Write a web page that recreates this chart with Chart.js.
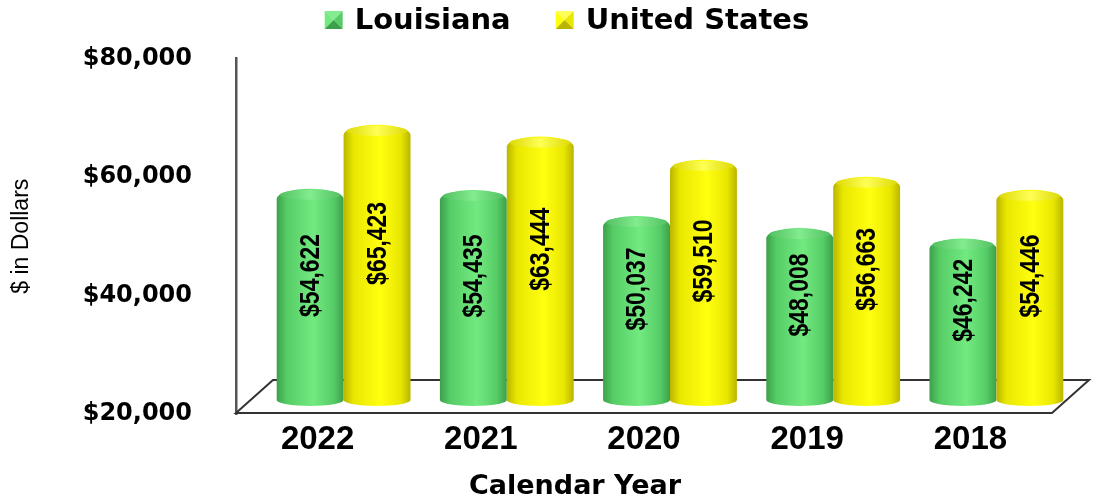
<!DOCTYPE html>
<html>
<head>
<meta charset="utf-8">
<script src="https://cdn.jsdelivr.net/npm/chart.js@4.4.1/dist/chart.umd.min.js"></script>
<style>
  html, body { margin: 0; padding: 0; background: #fff; }
  #wrap { width: 1099px; height: 498px; }
</style>
</head>
<body>
<div id="wrap"><canvas id="incomeChart"></canvas></div>
<script>
const years = ["2022", "2021", "2020", "2019", "2018"];
const louisiana = [54622, 54435, 50037, 48008, 46242];
const unitedStates = [65423, 63444, 59510, 56663, 54446];
const seriesNames = ["Louisiana", "United States"];
const yMin = 20000, yMax = 80000, yStep = 20000;
const xTitle = "Calendar Year";
const yTitle = "$ in Dollars";

// shading for the round bars
const shades = [
  { dark: "#3ca04a", mid: "#56cc66", light: "#72ea80", cap: "#82ec8e", rim: "#4fbd5e" },
  { dark: "#bab500", mid: "#e9e700", light: "#ffff10", cap: "#ffff55", rim: "#dad700" }
];

// depth shift of the bars and floor
const depth = { dx: 26, dy: -14, floorDx: 37, floorDy: -33 };

const money = v => "$" + v.toLocaleString("en-US");

function drawCylinder(ctx, cx, top, bottom, w, s) {
  const rx = w / 2, ry = 6, left = cx - rx;
  const g = ctx.createLinearGradient(left, 0, left + w, 0);
  g.addColorStop(0, s.dark);
  g.addColorStop(0.15, s.mid);
  g.addColorStop(0.55, s.light);
  g.addColorStop(0.85, s.mid);
  g.addColorStop(1, s.dark);
  ctx.save();
  ctx.fillStyle = g;
  ctx.beginPath();
  ctx.moveTo(left, top + 4);
  ctx.lineTo(left, bottom);
  ctx.ellipse(cx, bottom, rx, ry, 0, Math.PI, 0, true);
  ctx.lineTo(left + w, top + 4);
  ctx.ellipse(cx, top + 4, rx, ry + 4, 0, 0, Math.PI, true);
  ctx.closePath();
  ctx.fill();
  // cap with a soft rounded rim
  const cg = ctx.createLinearGradient(left, 0, left + w, 0);
  cg.addColorStop(0, s.rim);
  cg.addColorStop(0.5, s.cap);
  cg.addColorStop(1, s.rim);
  ctx.fillStyle = cg;
  ctx.beginPath();
  ctx.ellipse(cx, top, rx - 3, ry - 1, 0, 0, Math.PI * 2);
  ctx.fill();
  ctx.restore();
}

function drawMarker(ctx, x, y, size, s) {
  const h = size / 2;
  const tri = (pts, col) => {
    ctx.fillStyle = col;
    ctx.beginPath();
    ctx.moveTo(pts[0], pts[1]);
    ctx.lineTo(pts[2], pts[3]);
    ctx.lineTo(pts[4], pts[5]);
    ctx.closePath();
    ctx.fill();
  };
  tri([x - h, y - h, x + h, y - h, x, y], s.cap);
  tri([x - h, y - h, x - h, y + h, x, y], s.light);
  tri([x + h, y - h, x + h, y + h, x, y], s.mid);
  tri([x - h, y + h, x + h, y + h, x, y], s.dark);
}

const cylinders = {
  id: "cylinders",
  beforeDatasetsDraw(chart) {
    const { ctx, chartArea: a } = chart;
    ctx.save();
    ctx.strokeStyle = "#333";
    ctx.lineWidth = 2;
    ctx.beginPath();
    ctx.moveTo(a.left, a.bottom - 1);
    ctx.lineTo(a.right, a.bottom - 1);
    ctx.lineTo(a.right + depth.floorDx, a.bottom - 1 + depth.floorDy);
    ctx.lineTo(a.left + depth.floorDx, a.bottom - 1 + depth.floorDy);
    ctx.closePath();
    ctx.stroke();
    ctx.restore();
  },
  afterDatasetsDraw(chart) {
    const ctx = chart.ctx;
    chart.data.datasets.forEach((ds, di) => {
      const meta = chart.getDatasetMeta(di);
      meta.data.forEach((el, i) => {
        const p = el.getProps(["x", "y", "base", "width"], true);
        const cx = p.x + depth.dx;
        const top = p.y + depth.dy;
        const bottom = p.base + depth.dy;
        drawCylinder(ctx, cx, top, bottom, p.width, shades[di]);
        const cy = (top + bottom) / 2 - 22;
        ctx.save();
        ctx.translate(cx, cy);
        ctx.rotate(-Math.PI / 2);
        ctx.scale(0.82, 1);
        ctx.font = "bold 28px 'Liberation Sans', Arial, sans-serif";
        ctx.fillStyle = "#000";
        ctx.textAlign = "center";
        ctx.textBaseline = "middle";
        ctx.fillText(money(ds.data[i]), 0, 1);
        ctx.restore();
      });
    });
  },
  afterDraw(chart) {
    const ctx = chart.ctx;
    ctx.save();
    // legend
    ctx.font = "bold 29px 'DejaVu Sans', sans-serif";
    ctx.textBaseline = "middle";
    ctx.textAlign = "left";
    const box = 18, gap = 12, itemGap = 45;
    const widths = seriesNames.map(n => box + gap + ctx.measureText(n).width);
    const total = widths.reduce((a, b) => a + b, 0) + itemGap * (seriesNames.length - 1);
    let x = 567 - total / 2;
    const ly = 20;
    seriesNames.forEach((n, i) => {
      drawMarker(ctx, x + box / 2, ly, box, shades[i]);
      ctx.fillStyle = "#000";
      ctx.fillText(n, x + box + gap, ly + 1);
      x += widths[i] + itemGap;
    });
    // x axis title
    ctx.font = "bold 27px 'DejaVu Sans', sans-serif";
    ctx.textAlign = "center";
    ctx.fillText(xTitle, 575, 487);
    ctx.restore();
  }
};

const ctx = document.getElementById("incomeChart").getContext("2d");

new Chart(ctx, {
  type: "bar",
  data: {
    labels: years,
    datasets: [
      { label: seriesNames[0], data: louisiana, base: yMin, backgroundColor: "rgba(0,0,0,0)" },
      { label: seriesNames[1], data: unitedStates, base: yMin, backgroundColor: "rgba(0,0,0,0)" }
    ]
  },
  options: {
    responsive: true,
    maintainAspectRatio: false,
    animation: false,
    datasets: {
      bar: { categoryPercentage: 0.82, barPercentage: 1.0 }
    },
    layout: {
      padding: { top: 56, right: 47, left: 0, bottom: 0 }
    },
    plugins: {
      legend: { display: false },
      tooltip: { enabled: false }
    },
    scales: {
      x: {
        grid: { display: false, drawTicks: false },
        border: { display: false },
        ticks: {
          color: "#000",
          padding: 6,
          font: { family: "'Liberation Sans', Arial, sans-serif", size: 33, weight: "bold" }
        },
        afterFit(scale) { scale.height = 84; }
      },
      y: {
        min: yMin,
        max: yMax,
        grid: { display: false, drawTicks: false },
        border: { display: true, color: "#555", width: 2.5 },
        ticks: {
          stepSize: yStep,
          color: "#000",
          padding: 44,
          font: { family: "'DejaVu Sans', sans-serif", size: 24, weight: "bold" },
          callback: v => money(v)
        },
        title: {
          display: true,
          text: yTitle,
          color: "#000",
          padding: { top: 8, bottom: 0 },
          font: { family: "'Liberation Sans', Arial, sans-serif", size: 23 }
        },
        afterFit(scale) { scale.width = 236; }
      }
    }
  },
  plugins: [cylinders]
});
</script>
</body>
</html>
